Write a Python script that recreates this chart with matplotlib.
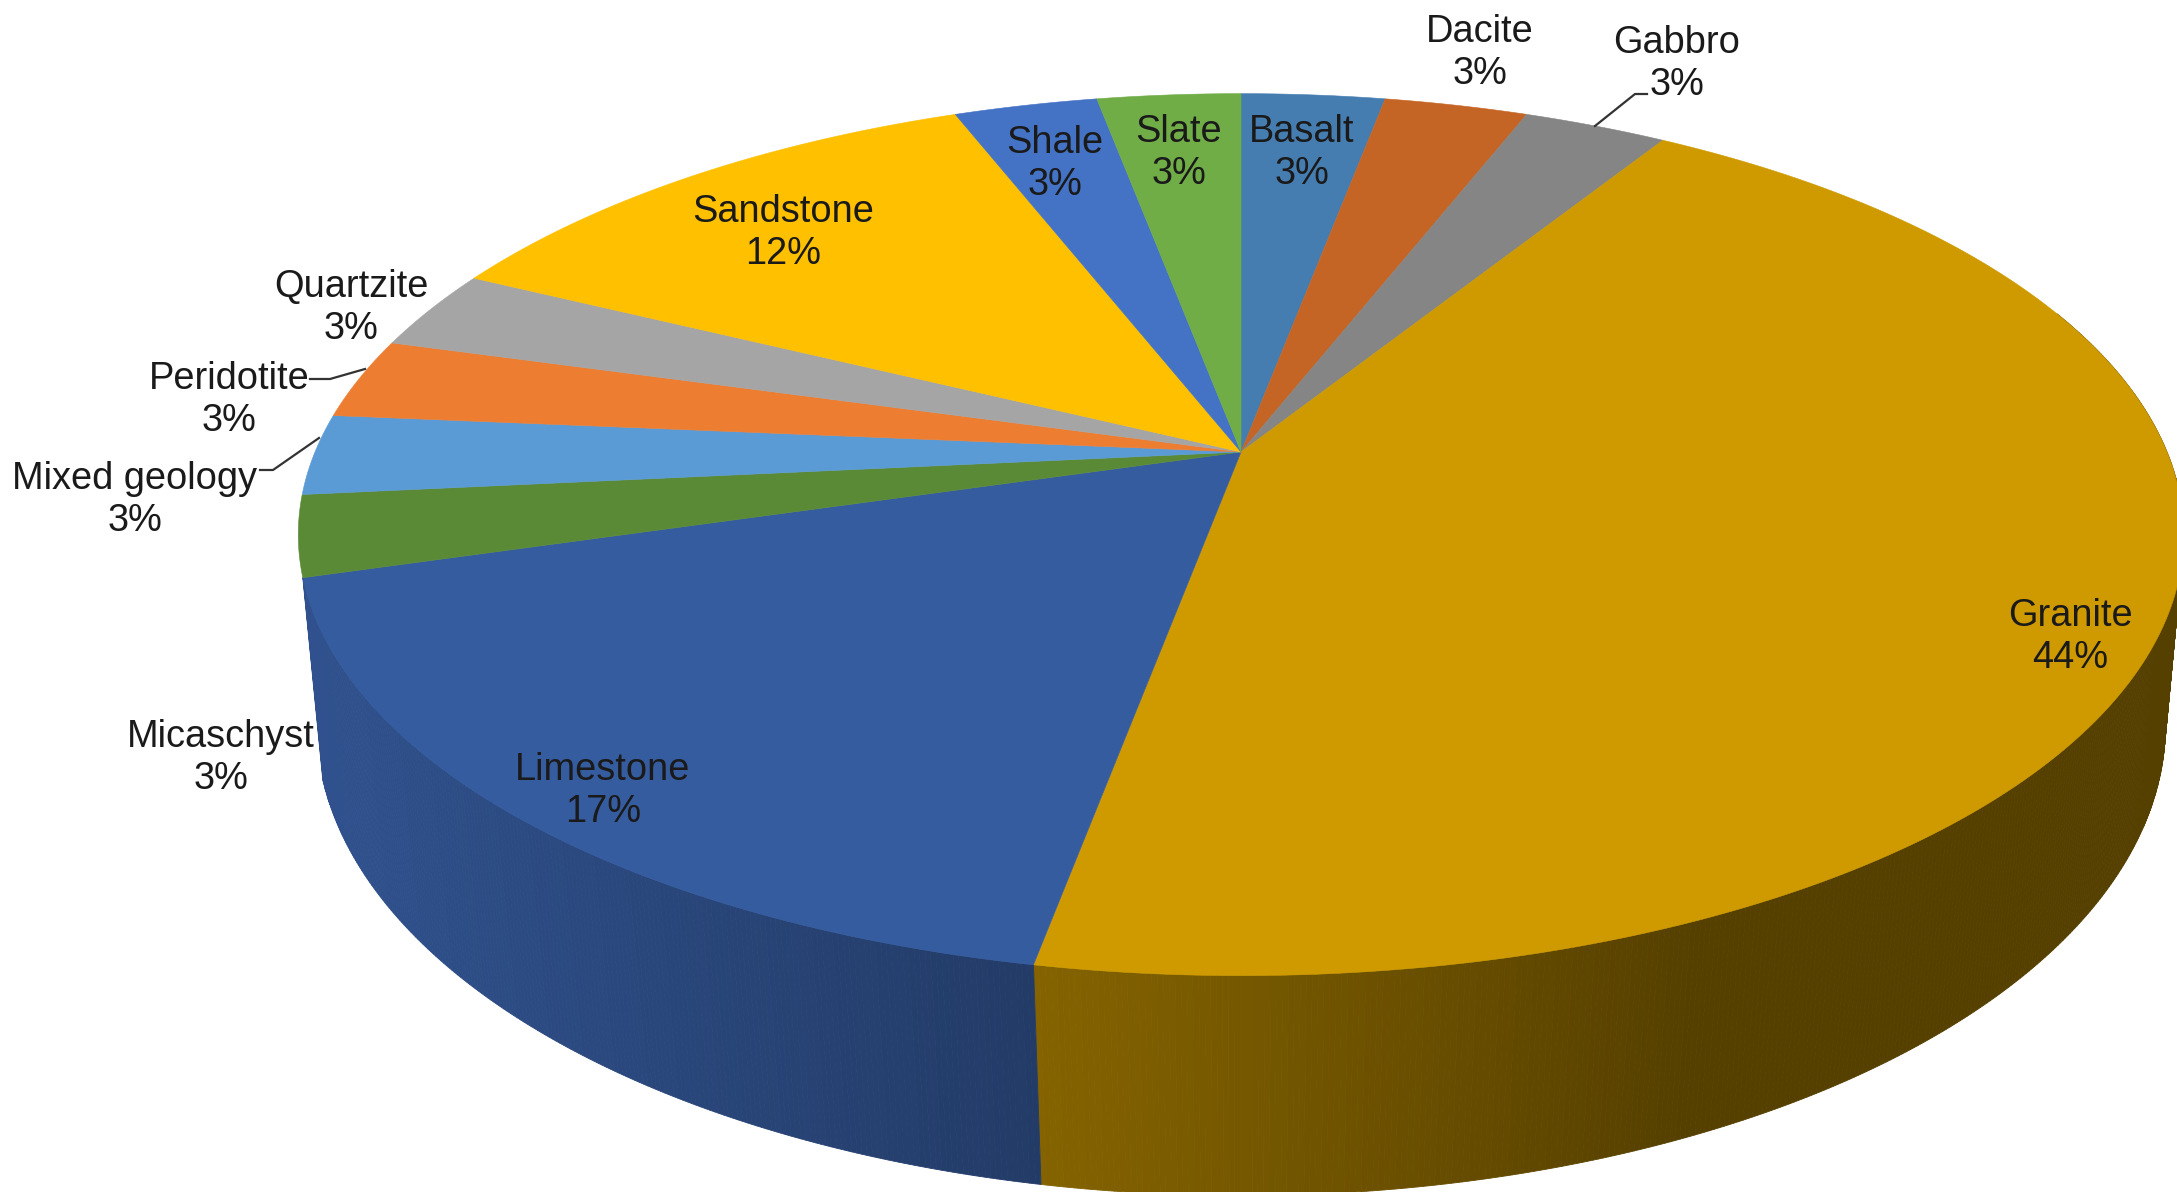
import numpy as np
import matplotlib
matplotlib.use("Agg")
import matplotlib.pyplot as plt

rocks = ["Basalt", "Dacite", "Gabbro", "Granite", "Limestone", "Micaschyst",
         "Mixed geology", "Peridotite", "Quartzite", "Sandstone", "Shale", "Slate"]
shares = [2.94, 2.94, 2.94, 43.9, 17.49, 2.94, 2.94, 2.94, 2.94, 11.76, 2.94, 2.94]
colors = ["#467DB0", "#C46525", "#858585", "#CE9A00", "#365CA0", "#5B8A36",
          "#5B9BD5", "#ED7D31", "#A5A5A5", "#FFC000", "#4472C4", "#70AD47"]

# only these two slices show a side wall
walled = ["Granite", "Limestone"]

# label centres, in figure pixels
label_x = [1302, 1480, 1677, 2070, 603, 221, 135, 229, 351, 783, 1055, 1179]
label_y = [153, 53, 64, 637, 791, 758, 500, 400, 308, 233, 164, 153]

# leader lines for the labels pushed outside the pie
leaders = [([1595, 1635, 1647], [126, 94, 94]),
           ([310, 330, 365], [379, 379, 369]),
           ([260, 273, 319], [470, 470, 438])]

# shading of the pie's side wall against x
shade_x = [316, 1040, 1700, 2177]
shade_f = [0.88, 0.64, 0.415, 0.415]

plt.rcParams['font.family'] = ['Liberation Sans', 'DejaVu Sans']


def rim(frac, cx, apex_y, rx, ry, k):
    # perspective view of a circle, frac runs clockwise from twelve o'clock
    t = 2 * np.pi * np.asarray(frac)
    u, v = np.sin(t), np.cos(t)
    d = 1 + k * v
    return cx + rx * u / d, apex_y - ry * v / d


def top_rim(frac):
    return rim(frac, 1241, 452, 926, 425.5, 0.1874)


def bottom_rim(frac):
    return rim(frac, 1241, 645, 911, 457, 0.17)


fig = plt.figure(figsize=(21.77, 11.92), dpi=100)
ax = fig.add_axes([0, 0, 1, 1])
ax.set_xlim(0, 2177)
ax.set_ylim(1192, 0)
ax.axis("off")

edges = np.cumsum([0] + shares) / sum(shares)

# side wall first, cut into thin strips so the shading steps with x
for i, c in enumerate(colors):
    if rocks[i] not in walled:
        continue
    n = max(int((edges[i + 1] - edges[i]) * 1200), 2)
    f = np.linspace(edges[i], edges[i + 1], n + 1)
    f = f[np.cos(2 * np.pi * f) < 0.35]
    xt, yt = top_rim(f)
    xb, yb = bottom_rim(f)
    base = np.array(matplotlib.colors.to_rgb(c))
    for j in range(len(f) - 1):
        s = np.interp((xt[j] + xt[j + 1]) / 2, shade_x, shade_f)
        ax.fill([xt[j], xt[j + 1], xb[j + 1], xb[j]],
                [yt[j], yt[j + 1], yb[j + 1], yb[j]],
                color=base * s, lw=0.6, zorder=1)

# top face
for i, c in enumerate(colors):
    f = np.linspace(edges[i], edges[i + 1], 200)
    x, y = top_rim(f)
    ax.fill(np.r_[1241, x], np.r_[452, y], color=c, lw=0.4, zorder=2)

for xs, ys in leaders:
    ax.plot(xs, ys, color="#333333", lw=1.6, zorder=3)

for name, v, x, y in zip(rocks, shares, label_x, label_y):
    ax.text(x, y, f"{name}\n{v:.0f}%", ha="center", va="center",
            fontsize=27.4, color="#1a1a1a", zorder=4)

fig.savefig("out.png", dpi=100)
